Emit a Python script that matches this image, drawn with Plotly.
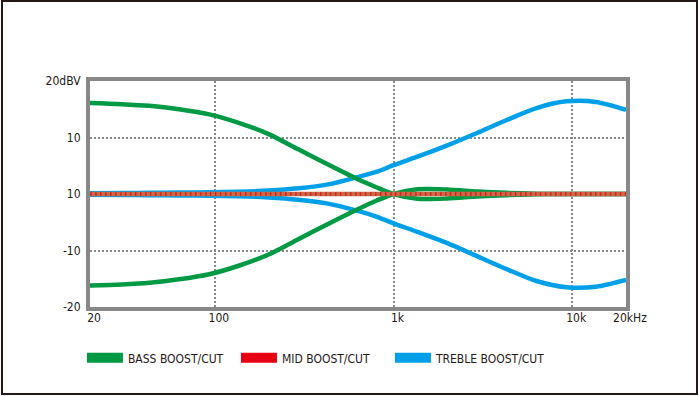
import plotly.graph_objects as go

# ---- data ----
freq = [20, 30, 43, 63, 93, 136, 200, 293, 430, 631, 800, 1000, 1360, 2000, 2930, 4300, 6310, 9260, 13600, 20000]
bass_boost = [16.1, 15.9, 15.6, 15.0, 14.1, 12.6, 10.6, 7.9, 5.2, 2.6, 1.2, 0.0, -0.85, -0.8, -0.45, -0.2, -0.05, 0.0, 0.0, 0.0]
bass_cut = [-16.2, -16.0, -15.7, -15.1, -14.2, -12.7, -10.7, -8.0, -5.3, -2.7, -1.2, 0.0, 0.85, 0.8, 0.45, 0.2, 0.05, 0.0, 0.0, 0.0]
treble_boost = [0.15, 0.17, 0.2, 0.25, 0.3, 0.4, 0.6, 1.0, 1.7, 3.0, 3.9, 5.1, 6.6, 8.6, 10.8, 13.1, 15.2, 16.4, 16.3, 14.9]
treble_cut = [-0.15, -0.17, -0.2, -0.25, -0.3, -0.4, -0.6, -1.0, -1.7, -3.0, -4.0, -5.2, -6.7, -8.7, -11.0, -13.3, -15.4, -16.5, -16.4, -15.2]
mid_flat = [0.0] * len(freq)

x_tickvals = [20, 100, 1000, 10000, 20000]
x_ticktext = ["20", "100", "1k", "10k", "20kHz"]
y_tickvals = [20, 10, 0, -10, -20]
y_ticktext = ["20dBV", "10", "10", "-10", "-20"]

series_names = ["BASS BOOST/CUT", "MID BOOST/CUT", "TREBLE BOOST/CUT"]
GREEN, RED, BLUE = "#009944", "#e60012", "#00a0e9"

FONT = "Liberation Sans Narrow, DejaVu Sans Condensed, Arial Narrow, sans-serif"

fig = go.Figure()

def curve(x, y, color, width=4.5, dash=None):
    fig.add_trace(go.Scatter(x=x, y=y, mode="lines", showlegend=False, hoverinfo="skip",
                             line=dict(color=color, width=width, shape="spline", smoothing=0.8, dash=dash)))

curve(freq, treble_boost, BLUE)
curve(freq, treble_cut, BLUE)
curve(freq, bass_boost, GREEN)
curve(freq, bass_cut, GREEN)
curve(freq, mid_flat, "#c96a48", width=4.5)
curve(freq, mid_flat, "#d81e1e", width=3.5, dash="1.5px,3.5px")

# legend entries
for name, col in zip(series_names, [GREEN, RED, BLUE]):
    fig.add_trace(go.Scatter(x=[None], y=[None], mode="lines", name=name,
                             line=dict(color=col, width=10)))

L, R, T, B = 90, 74, 81, 89
W, H = 700, 396
pw, ph = W - L - R, H - T - B

fig.update_layout(
    width=W, height=H,
    margin=dict(l=L, r=R, t=T, b=B),
    paper_bgcolor="white", plot_bgcolor="white",
    font=dict(family=FONT, size=12, color="#231815"),
    legend=dict(orientation="h", x=-0.015, xanchor="left", y=-0.225, yanchor="middle",
                font=dict(family=FONT, size=12, color="#231815"), itemwidth=36,
                entrywidth=103, entrywidthmode="pixels",
                bgcolor="rgba(0,0,0,0)"),
    shapes=[dict(type="rect", xref="paper", yref="paper",
                 x0=(2 - L) / pw, x1=(W - 3 - L) / pw,
                 y0=-(B - 2) / ph, y1=1 + (T - 1) / ph,
                 line=dict(color="#231815", width=2), layer="below")],
)

fig.update_xaxes(type="log", range=[1.30103, 4.30103], tickvals=x_tickvals, ticktext=x_ticktext,
                 showgrid=True, gridcolor="#888888", gridwidth=1.5, griddash="2px,2px",
                 showline=True, linecolor="#878787", linewidth=4, mirror=True,
                 ticks="", zeroline=False, layer="above traces",
                 ticklabelshift=4, ticklabelstandoff=-3)
fig.update_yaxes(range=[-20, 20], tickvals=y_tickvals, ticktext=y_ticktext,
                 showgrid=True, gridcolor="#888888", gridwidth=1.5, griddash="2px,2px",
                 showline=True, linecolor="#878787", linewidth=4, mirror=True,
                 ticks="", zeroline=False, layer="above traces", ticklabelstandoff=3)

fig.write_html("out.html", config={"displayModeBar": False},
               post_script="document.body.style.margin='0';document.body.style.overflow='hidden';")
